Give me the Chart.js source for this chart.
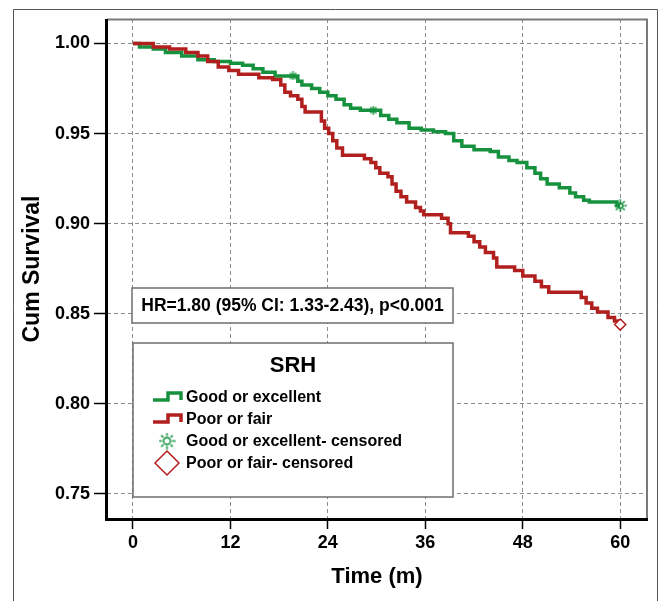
<!DOCTYPE html>
<html>
<head>
<meta charset="utf-8">
<script src="https://cdn.jsdelivr.net/npm/chart.js@4.4.1/dist/chart.umd.min.js"></script>
<style>
  html, body { margin: 0; padding: 0; background: #fff; }
  #wrap { width: 659px; height: 601px; }
</style>
</head>
<body>
<div id="wrap"><canvas id="km" width="659" height="601"></canvas></div>
<script>
// axis ticks
const xTicks = [0, 12, 24, 36, 48, 60];
const yTicks = [0.75, 0.80, 0.85, 0.90, 0.95, 1.00];

// Good or excellent
const goodTime = [0, 0.8, 2.5, 4, 6, 8, 10, 12, 13.5, 14.8, 16, 17.5, 20.3, 20.8, 22, 23, 24, 25, 26, 26.8,
  28, 30.5, 31.5, 32.5, 34, 35.5, 37, 38.5, 39.5, 40.5, 42, 44, 45, 46.3, 47.3, 48.5, 49.5, 50.2, 51, 52.5,
  53.8, 54.5, 55.5, 56.2, 59.6, 60];
const goodSurv = [1.000, 0.998, 0.997, 0.995, 0.993, 0.991, 0.990, 0.989, 0.988, 0.986, 0.984, 0.982, 0.979, 0.977, 0.975, 0.973, 0.971, 0.969, 0.966, 0.964,
  0.963, 0.960, 0.958, 0.956, 0.953, 0.952, 0.951, 0.950, 0.946, 0.943, 0.941, 0.940, 0.937, 0.935, 0.934, 0.931, 0.928, 0.925, 0.922, 0.920,
  0.917, 0.915, 0.913, 0.912, 0.910, 0.910];

// Poor or fair
const poorTime = [0, 2.5, 4.5, 6.5, 8, 9.2, 10.5, 11.8, 13, 15.5, 17.2, 18.2, 18.7, 19.4, 20.3, 20.8, 21.2, 23.2, 23.6, 24.1,
  24.6, 25.1, 25.8, 28.5, 29.3, 29.9, 30.4, 31.4, 31.9, 32.4, 33, 33.7, 34.8, 35.4, 35.8, 38, 38.8, 39.1, 41.3, 42,
  42.7, 43.4, 44.4, 44.8, 47, 48, 49.5, 50.3, 51.2, 55.2, 55.8, 56.5, 57.2, 58.5, 59.3, 60];
const poorSurv = [1.000, 0.998, 0.997, 0.995, 0.993, 0.990, 0.987, 0.985, 0.983, 0.981, 0.980, 0.977, 0.973, 0.971, 0.969, 0.965, 0.962, 0.957, 0.953, 0.950,
  0.946, 0.942, 0.938, 0.936, 0.934, 0.931, 0.928, 0.926, 0.922, 0.918, 0.915, 0.912, 0.909, 0.907, 0.905, 0.903, 0.900, 0.895, 0.893, 0.890,
  0.887, 0.884, 0.881, 0.876, 0.874, 0.871, 0.868, 0.865, 0.862, 0.859, 0.856, 0.853, 0.851, 0.848, 0.846, 0.844];

// censored marks
const goodCensorTime = [19.7, 29.6, 60];
const goodCensorSurv = [0.982, 0.963, 0.910];
const poorCensorTime = [60];
const poorCensorSurv = [0.844];

const seriesNames = ['Good or excellent', 'Poor or fair', 'Good or excellent- censored', 'Poor or fair- censored'];
const legendTitle = 'SRH';
const hrText = 'HR=1.80 (95% CI: 1.33-2.43), p<0.001';

const GREEN = '#16923e';
const RED = '#b1201f';
const FONT = '"Liberation Sans", Arial, sans-serif';

function pts(xs, ys) {
  return xs.map((x, i) => ({ x: x, y: ys[i] }));
}

// little sun shaped censor mark
function makeSun(size) {
  const c = document.createElement('canvas');
  c.width = size; c.height = size;
  const g = c.getContext('2d');
  const m = size / 2;
  g.strokeStyle = GREEN;
  g.lineWidth = 1.6;
  g.beginPath();
  g.arc(m, m, size * 0.2, 0, Math.PI * 2);
  g.stroke();
  for (let k = 0; k < 8; k++) {
    const a = k * Math.PI / 4;
    g.beginPath();
    g.moveTo(m + Math.cos(a) * size * 0.3, m + Math.sin(a) * size * 0.3);
    g.lineTo(m + Math.cos(a) * size * 0.48, m + Math.sin(a) * size * 0.48);
    g.stroke();
  }
  return c;
}
const sunSmall = makeSun(9);
const sunBig = makeSun(13);
const sunLegend = makeSun(17);

const extras = {
  id: 'extras',
  afterDraw(chart) {
    const ctx = chart.ctx;
    const a = chart.chartArea;
    ctx.save();

    // outer thin frame
    ctx.strokeStyle = '#555';
    ctx.lineWidth = 1;
    ctx.beginPath();
    ctx.moveTo(13.5, 601);
    ctx.lineTo(13.5, 9.5);
    ctx.lineTo(657.5, 9.5);
    ctx.lineTo(657.5, 601);
    ctx.stroke();

    // plot frame: grey top/right, black left/bottom
    ctx.strokeStyle = '#7a7a7a';
    ctx.lineWidth = 2;
    ctx.beginPath();
    ctx.moveTo(a.left, a.top + 0.5);
    ctx.lineTo(a.right, a.top + 0.5);
    ctx.lineTo(a.right, a.bottom);
    ctx.stroke();

    ctx.strokeStyle = '#000';
    ctx.lineWidth = 3;
    ctx.beginPath();
    ctx.moveTo(a.left - 0.5, a.top);
    ctx.lineTo(a.left - 0.5, a.bottom + 0.5);
    ctx.lineTo(a.right + 1, a.bottom + 0.5);
    ctx.stroke();

    // HR box
    ctx.fillStyle = '#fff';
    ctx.strokeStyle = '#6e6e6e';
    ctx.lineWidth = 1.5;
    ctx.fillRect(132, 288, 321, 35);
    ctx.strokeRect(132, 288, 321, 35);
    ctx.fillStyle = '#000';
    ctx.font = 'bold 17.5px ' + FONT;
    ctx.textAlign = 'center';
    ctx.textBaseline = 'middle';
    ctx.fillText(hrText, 292.5, 306);

    // legend box
    ctx.fillStyle = '#fff';
    ctx.fillRect(133, 343, 320, 154);
    ctx.strokeRect(133, 343, 320, 154);
    ctx.fillStyle = '#000';
    ctx.font = 'bold 22px ' + FONT;
    ctx.fillText(legendTitle, 293, 366);

    const rows = [397, 419, 441, 463];
    ctx.textAlign = 'left';
    ctx.font = 'bold 16px ' + FONT;
    seriesNames.forEach((name, i) => {
      const y = rows[i];
      if (i < 2) {
        ctx.strokeStyle = i === 0 ? GREEN : RED;
        ctx.lineWidth = 3.5;
        ctx.lineJoin = 'miter';
        ctx.beginPath();
        ctx.moveTo(153, y + 3);
        ctx.lineTo(168, y + 3);
        ctx.lineTo(168, y - 4);
        ctx.lineTo(181, y - 4);
        ctx.lineTo(181, y + 3);
        ctx.stroke();
      } else if (i === 2) {
        ctx.drawImage(sunLegend, 167 - sunLegend.width / 2, y - sunLegend.height / 2);
      } else {
        ctx.strokeStyle = RED;
        ctx.lineWidth = 1.5;
        ctx.beginPath();
        ctx.moveTo(167, y - 12);
        ctx.lineTo(179, y);
        ctx.lineTo(167, y + 12);
        ctx.lineTo(155, y);
        ctx.closePath();
        ctx.stroke();
      }
      ctx.fillStyle = '#000';
      ctx.fillText(name, 186, y + 1);
    });

    ctx.restore();
  }
};

new Chart(document.getElementById('km'), {
  type: 'line',
  data: {
    datasets: [
      {
        label: seriesNames[2],
        data: pts(goodCensorTime, goodCensorSurv),
        showLine: false,
        pointStyle: [sunSmall, sunSmall, sunBig],
        pointRadius: 6,
        order: 0
      },
      {
        label: seriesNames[3],
        data: pts(poorCensorTime, poorCensorSurv),
        showLine: false,
        pointStyle: 'rectRot',
        pointRadius: 5.5,
        pointBackgroundColor: '#fff',
        pointBorderColor: RED,
        pointBorderWidth: 1.5,
        order: 0
      },
      {
        label: seriesNames[1],
        data: pts(poorTime, poorSurv),
        stepped: 'before',
        borderColor: RED,
        borderWidth: 3.5,
        pointRadius: 0,
        fill: false,
        order: 1
      },
      {
        label: seriesNames[0],
        data: pts(goodTime, goodSurv),
        stepped: 'before',
        borderColor: GREEN,
        borderWidth: 3.5,
        pointRadius: 0,
        fill: false,
        order: 2
      }
    ]
  },
  options: {
    responsive: false,
    animation: false,
    devicePixelRatio: 1,
    layout: { padding: { left: 0, top: 19, right: 12, bottom: 0 } },
    plugins: {
      legend: { display: false },
      tooltip: { enabled: false }
    },
    scales: {
      x: {
        type: 'linear',
        min: -3.2,
        max: 63.3,
        afterBuildTicks: s => { s.ticks = xTicks.map(v => ({ value: v })); },
        afterFit: s => { s.height = 82; },
        ticks: {
          color: '#000',
          font: { family: FONT, size: 18, weight: 'bold' },
          padding: 3,
          maxRotation: 0
        },
        grid: {
          color: '#8c8c8c',
          lineWidth: 1,
          tickLength: 10,
          tickColor: '#000',
          tickWidth: 1.5,
          tickBorderDash: []
        },
        border: { display: false, dash: [4, 3] },
        title: {
          display: true,
          text: 'Time (m)',
          color: '#000',
          font: { family: FONT, size: 22, weight: 'bold' },
          padding: { top: 0, bottom: 11 }
        }
      },
      y: {
        min: 0.7361,
        max: 1.0136,
        afterBuildTicks: s => { s.ticks = yTicks.map(v => ({ value: v })); },
        afterFit: s => { s.width = 107; },
        ticks: {
          color: '#000',
          font: { family: FONT, size: 18, weight: 'bold' },
          padding: 4,
          callback: v => Number(v).toFixed(2)
        },
        grid: {
          color: '#8c8c8c',
          lineWidth: 1,
          tickLength: 13,
          tickColor: '#000',
          tickWidth: 1.5,
          tickBorderDash: []
        },
        border: { display: false, dash: [4, 3] },
        title: {
          display: true,
          text: 'Cum Survival',
          color: '#000',
          font: { family: FONT, size: 23, weight: 'bold' },
          padding: { top: 19, bottom: 0 }
        }
      }
    }
  },
  plugins: [extras]
});
</script>
</body>
</html>
